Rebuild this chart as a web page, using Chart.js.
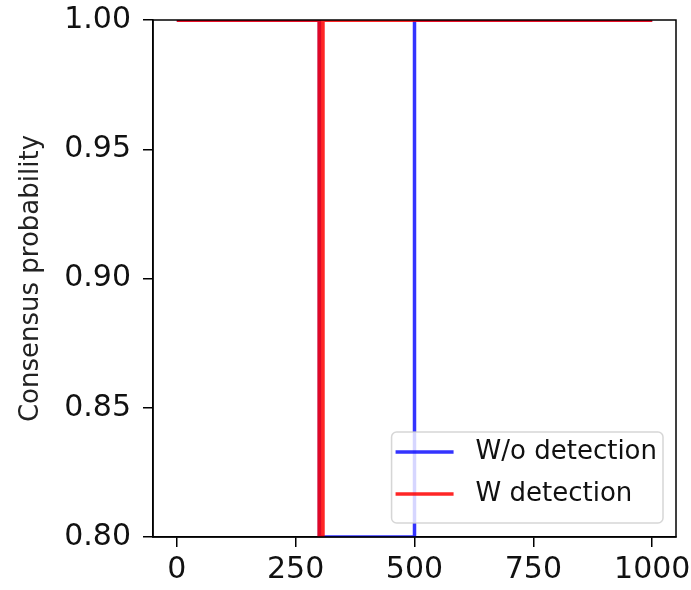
<!DOCTYPE html>
<html>
<head>
<meta charset="utf-8">
<script src="https://cdn.jsdelivr.net/npm/chart.js@4"></script>
<style>
  body { margin: 0; background: #fff; }
  #wrap { width: 691px; height: 590px; }
</style>
</head>
<body>
<div id="wrap"><canvas id="chart"></canvas></div>
<script>
// data
const woX = [0, 300, 300, 500, 500, 1000];
const woY = [1.0, 1.0, 0.8, 0.8, 1.0, 1.0];
const wX = [0, 300, 300, 307, 307, 1000];
const wY = [1.0, 1.0, 0.8, 0.8, 1.0, 1.0];
const xTicks = [0, 250, 500, 750, 1000];
const yTicks = [0.80, 0.85, 0.90, 0.95, 1.00];

const font = 'DejaVu Sans';
const toPts = (xs, ys) => xs.map((x, i) => ({x: x, y: ys[i]}));

// frame on all four sides, drawn over the lines like matplotlib spines
const framePlugin = {
    id: 'frame',
    afterDatasetsDraw(c) {
        const a = c.chartArea, ctx = c.ctx;
        ctx.save();
        ctx.strokeStyle = '#000';
        ctx.lineWidth = 1.5;
        ctx.strokeRect(a.left, a.top, a.right - a.left, a.bottom - a.top);
        ctx.restore();
    }
};

// legend box in the lower right corner inside the plot
const legendPlugin = {
    id: 'innerLegend',
    afterDraw(c) {
        const a = c.chartArea, ctx = c.ctx;
        const sets = c.data.datasets;
        ctx.save();
        ctx.font = '26px ' + font;
        let tw = 0;
        sets.forEach(d => { tw = Math.max(tw, ctx.measureText(d.label).width); });
        const w = 4 + 58 + 20 + tw + 8;
        const h = 91;
        const x = a.right - 13 - w, y = a.bottom - 14 - h;
        ctx.beginPath();
        ctx.roundRect(x, y, w, h, 5);
        ctx.fillStyle = 'rgba(255,255,255,0.8)';
        ctx.fill();
        ctx.strokeStyle = 'rgba(204,204,204,0.8)';
        ctx.lineWidth = 1.5;
        ctx.stroke();
        sets.forEach((d, i) => {
            const ly = y + 20 + i * 42;
            ctx.beginPath();
            ctx.moveTo(x + 4, ly);
            ctx.lineTo(x + 62, ly);
            ctx.strokeStyle = d.borderColor;
            ctx.lineWidth = 3.5;
            ctx.stroke();
            ctx.fillStyle = '#111';
            ctx.textBaseline = 'middle';
            ctx.fillText(d.label, x + 84, ly);
        });
        ctx.restore();
    }
};

new Chart(document.querySelector('#chart'), {
    type: 'line',
    data: {
        datasets: [
            {
                label: 'W/o detection',
                data: toPts(woX, woY),
                borderColor: 'rgba(0,0,255,0.8)',
                borderWidth: 3.5,
                pointRadius: 0,
                order: 2
            },
            {
                label: 'W detection',
                data: toPts(wX, wY),
                borderColor: 'rgba(255,0,0,0.85)',
                borderWidth: 4,
                pointRadius: 0,
                order: 1
            }
        ]
    },
    options: {
        responsive: true,
        maintainAspectRatio: false,
        animation: false,
        layout: { padding: { top: 20, right: 15, left: 0, bottom: 0 } },
        plugins: { legend: { display: false }, tooltip: { enabled: false } },
        scales: {
            x: {
                type: 'linear',
                min: -50,
                max: 1050,
                afterBuildTicks: s => { s.ticks = xTicks.map(v => ({value: v})); },
                afterFit: s => { s.height = 53; s.paddingLeft = 0; s.paddingRight = 0; },
                ticks: { color: '#111', font: { family: font, size: 30 }, padding: 5, maxRotation: 0, callback: v => String(v) },
                grid: { drawOnChartArea: false, tickLength: 10, color: '#000', lineWidth: 1.5 },
                border: { color: '#000', width: 1.5 }
            },
            y: {
                min: 0.8,
                max: 1.0,
                afterBuildTicks: s => { s.ticks = yTicks.map(v => ({value: v})); },
                afterFit: s => { s.width = 153; s.paddingTop = 0; s.paddingBottom = 0; },
                ticks: { color: '#111', font: { family: font, size: 30 }, padding: 12, callback: v => v.toFixed(2) },
                grid: { drawOnChartArea: false, tickLength: 10, color: '#000', lineWidth: 1.5 },
                border: { color: '#000', width: 1.5 },
                title: { display: true, text: 'Consensus probability', color: '#222', font: { family: font, size: 26 }, padding: { top: 16, bottom: 0 } }
            }
        }
    },
    plugins: [framePlugin, legendPlugin]
});
</script>
</body>
</html>
